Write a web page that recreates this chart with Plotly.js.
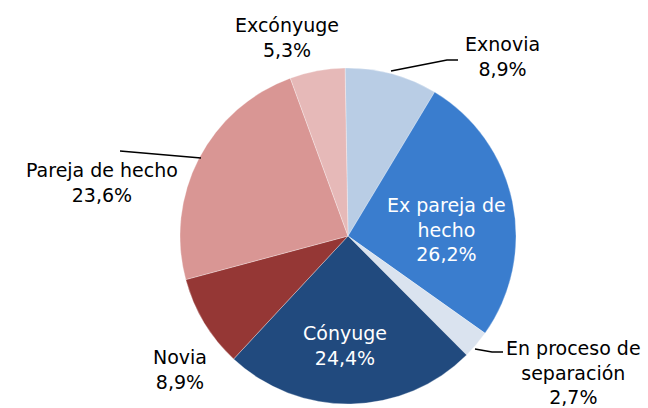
<!DOCTYPE html>
<html>
<head>
<meta charset="utf-8">
<script src="https://cdn.plot.ly/plotly-3.0.1.min.js"></script>
<style>html,body{margin:0;padding:0;background:#fff;}#chart{width:648px;height:408px;}</style>
</head>
<body>
<div id="chart"></div>
<script>
var categories = ["Exnovia", "Ex pareja de hecho", "En proceso de separación", "Cónyuge", "Novia", "Pareja de hecho", "Excónyuge"];
var displayLabels = ["Exnovia", "Ex pareja de<br>hecho", "En proceso de<br>separación", "Cónyuge", "Novia", "Pareja de hecho", "Excónyuge"];
var values = [8.9, 26.2, 2.7, 24.4, 8.9, 23.6, 5.3];
var colors = ["#b9cde5", "#3a7dce", "#dae3ef", "#214a7e", "#953735", "#d99694", "#e6b9b8"];

var W = 648, H = 408;
function px(x){ return x / W; }
function py(y){ return 1 - y / H; }
function pct(v){ return v.toFixed(1).replace('.', ',') + '%'; }

// label placement (pixel centres) and text colours
var labelPos = [[502, 57], [447, 229], [573, 372], [345, 345], [180, 369], [102, 183], [287, 37]];
var labelColor = ["#000", "#fff", "#000", "#fff", "#000", "#000", "#000"];

var annotations = categories.map(function(c, i){
  return {
    xref: 'paper', yref: 'paper', x: px(labelPos[i][0]), y: py(labelPos[i][1]),
    xanchor: 'center', yanchor: 'middle', showarrow: false, align: 'center',
    text: displayLabels[i] + '<br>' + pct(values[i]),
    font: {family: 'DejaVu Sans, sans-serif', size: 19, color: labelColor[i]}
  };
});

function path(pts){
  return pts.map(function(p, k){ return (k ? 'L' : 'M') + px(p[0]) + ',' + py(p[1]); }).join(' ');
}
var leaders = [
  [[391, 71], [447, 60], [458, 60]],
  [[201, 158], [120, 151]],
  [[475, 349], [492, 352], [503, 352]]
];
var shapes = leaders.map(function(l){
  return {type: 'path', xref: 'paper', yref: 'paper', path: path(l), line: {color: '#000', width: 1.5}};
});

var trace = {
  type: 'pie',
  labels: categories,
  values: values,
  sort: false,
  direction: 'clockwise',
  rotation: -1,
  textinfo: 'none',
  hoverinfo: 'label+percent',
  marker: {colors: colors, line: {color: '#ffffff', width: 0.3}},
  domain: {x: [px(180), px(516)], y: [py(404), py(68)]},
  showlegend: false
};

Plotly.newPlot('chart', [trace], {
  width: W, height: H,
  margin: {l: 0, r: 0, t: 0, b: 0},
  paper_bgcolor: '#fff',
  showlegend: false,
  annotations: annotations,
  shapes: shapes
}, {staticPlot: true});
</script>
</body>
</html>
